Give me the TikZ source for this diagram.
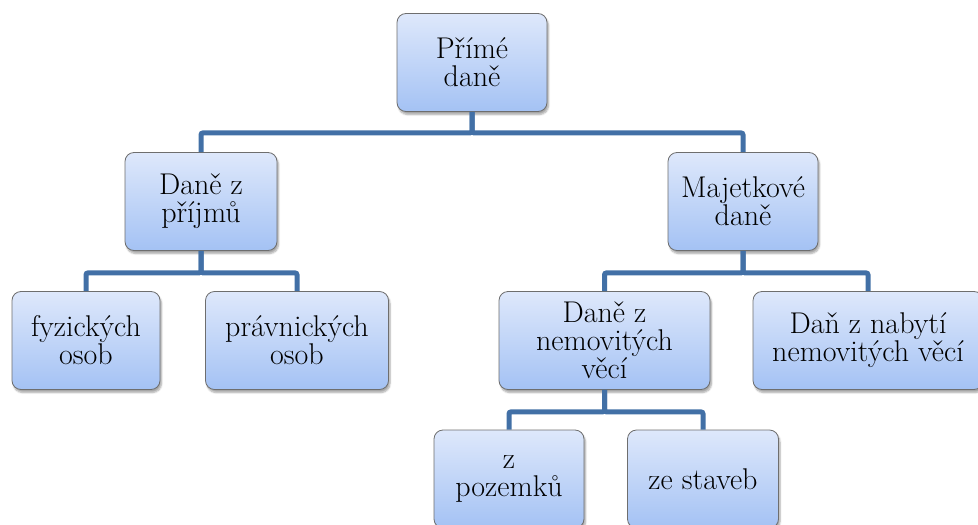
\documentclass[tikz,border=0pt]{standalone}
\usepackage{fontspec}
\usetikzlibrary{shadows.blur, positioning}
\definecolor{boxtop}{RGB}{222,232,251}
\definecolor{boxbot}{RGB}{164,194,244}
\definecolor{boxline}{RGB}{110,110,110}
\definecolor{linkblue}{RGB}{66,112,166}
\tikzset{
  taxbox/.style={
    rectangle, rounded corners=9pt,
    minimum width=#1, minimum height=98pt, inner sep=0pt,
    align=center, font=\rmfamily\fontsize{30}{28}\selectfont,
    draw=boxline, line width=0.8pt,
    top color=boxtop, bottom color=boxbot,
    blur shadow={shadow xshift=1.5pt, shadow yshift=-3pt,
                 shadow blur steps=6, shadow opacity=35}
  },
  taxbox/.default=150pt,
  link/.style={line width=5pt, color=linkblue, rounded corners=2pt}
}

\begin{document}
\begin{tikzpicture}[x=1pt, y=-1pt]
  \useasboundingbox (0,0) rectangle (978,525);
  \clip (0,0) rectangle (978,525);
  % boxes
  \node[taxbox] (root) at (472,62.5) {Přímé\\daně};
  \node[taxbox=152pt] (prijmy) at (201,201.5) {Daně z\\příjmů};
  \node[taxbox] (majetek) at (743,201.5) {Majetkové\\daně};
  \node[taxbox=148pt] (fyz) at (86,340.5) {fyzických\\osob};
  \node[taxbox=183pt] (prav) at (297,340.5) {právnických\\osob};
  \node[taxbox=211pt] (nemov) at (604.5,340.5) {Daně z\\nemovitých\\věcí};
  \node[taxbox=230pt] (nabyti) at (868,340.5) {Daň z nabytí\\nemovitých věcí};
  \node[taxbox] (pozemky) at (509,479) {z\\pozemků};
  \node[taxbox=151pt] (stavby) at (703,479) {ze staveb};
  % connectors
  \draw[link] (root.south) -- ++(0,21) -| (prijmy.north);
  \draw[link] (root.south) -- ++(0,21) -| (majetek.north);
  \draw[link] (prijmy.south) -- ++(0,22) -| (fyz.north);
  \draw[link] (prijmy.south) -- ++(0,22) -| (prav.north);
  \draw[link] (majetek.south) -- ++(0,22) -| (nemov.north);
  \draw[link] (majetek.south) -- ++(0,22) -| (nabyti.north);
  \draw[link] (nemov.south) -- ++(0,22) -| (pozemky.north);
  \draw[link] (nemov.south) -- ++(0,22) -| (stavby.north);
\end{tikzpicture}
\end{document}
